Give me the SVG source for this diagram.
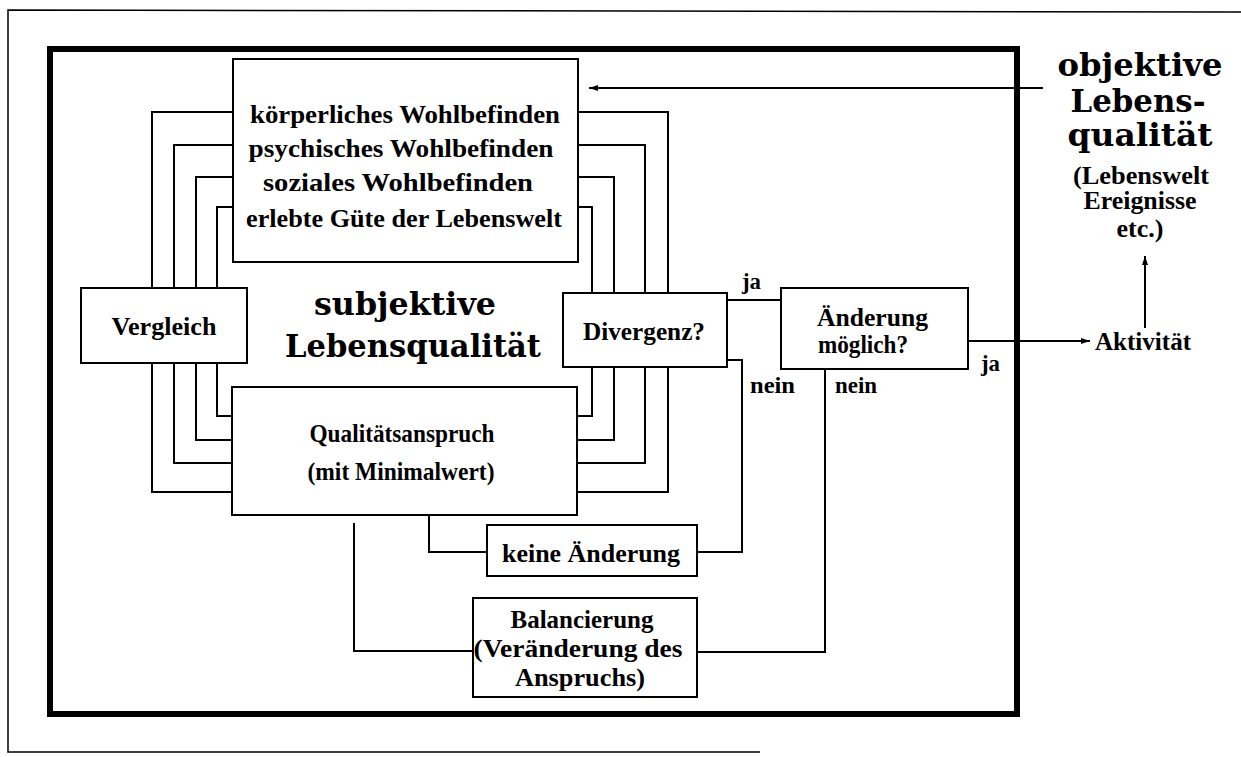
<svg xmlns="http://www.w3.org/2000/svg" width="1241" height="757" viewBox="0 0 1241 757">
<style>
.box{fill:#fff;stroke:#000;stroke-width:2}
.ln{fill:none;stroke:#000;stroke-width:2}
.t{font-family:"Liberation Serif","Times New Roman",serif;font-weight:bold;font-size:26px;fill:#000}
.s{font-size:25px}
.m{text-anchor:middle}
.big{font-family:"DejaVu Serif","Liberation Serif",serif;font-weight:bold;font-size:31px;fill:#000;text-anchor:middle}
.lab{font-family:"Liberation Serif","Times New Roman",serif;font-weight:bold;font-size:24px;fill:#000}
</style>
<defs>
<marker id="ah" markerWidth="10" markerHeight="8" refX="9" refY="4" orient="auto" markerUnits="userSpaceOnUse">
<path d="M0,1 L9,4 L0,7 Z" fill="#000"/>
</marker>
</defs>
<rect width="1241" height="757" fill="#fff"/>
<g id="frame">
<path d="M1241,12 L8,10 L8,752 L760,752" fill="none" stroke="#000" stroke-width="1.5"/>
<rect x="50" y="49" width="967" height="665" fill="none" stroke="#000" stroke-width="6"/>
</g>
<g id="connectors">
<rect class="ln" x="152" y="112" width="516" height="380"/>
<rect class="ln" x="174" y="145" width="471" height="318"/>
<rect class="ln" x="196" y="177" width="418" height="263"/>
<rect class="ln" x="217" y="207" width="375" height="209"/>
<path class="ln" d="M1043,88 L589,88" marker-end="url(#ah)"/>
<path class="ln" d="M727,300 L781,300"/>
<path class="ln" d="M727,360 L742,360 L742,552 L697,552"/>
<path class="ln" d="M429,515 L429,552 L487,552"/>
<path class="ln" d="M825,369 L825,652 L697,652"/>
<path class="ln" d="M354,523 L354,651 L473,651"/>
<path class="ln" d="M968,341 L1090,341" marker-end="url(#ah)"/>
<path class="ln" d="M1145,328 L1145,256" marker-end="url(#ah)"/>
</g>
<g id="n-wohl">
<rect class="box" x="233" y="59" width="345" height="203"/>
<text class="t s m" x="405" y="123" textLength="310" lengthAdjust="spacingAndGlyphs">körperliches Wohlbefinden</text>
<text class="t s m" x="401" y="157" textLength="305" lengthAdjust="spacingAndGlyphs">psychisches Wohlbefinden</text>
<text class="t s m" x="398" y="191" textLength="270" lengthAdjust="spacingAndGlyphs">soziales Wohlbefinden</text>
<text class="t s m" x="404" y="227" textLength="316" lengthAdjust="spacingAndGlyphs">erlebte Güte der Lebenswelt</text>
</g>
<g id="n-vergleich">
<rect class="box" x="81" y="288" width="166" height="75"/>
<text class="t m" x="164" y="335" textLength="105" lengthAdjust="spacingAndGlyphs">Vergleich</text>
</g>
<g id="n-subjektiv">
<text class="big" x="405" y="315" textLength="182" lengthAdjust="spacingAndGlyphs">subjektive</text>
<text class="big" x="413" y="357" textLength="256" lengthAdjust="spacingAndGlyphs">Lebensqualität</text>
</g>
<g id="n-divergenz">
<rect class="box" x="563" y="293" width="164" height="74"/>
<text class="t m" x="644" y="340" textLength="122" lengthAdjust="spacingAndGlyphs">Divergenz?</text>
</g>
<g id="n-aenderung">
<rect class="box" x="781" y="288" width="187" height="81"/>
<text class="t s" x="817" y="326" textLength="111" lengthAdjust="spacingAndGlyphs">Änderung</text>
<text class="t s" x="818" y="353" textLength="90" lengthAdjust="spacingAndGlyphs">möglich?</text>
</g>
<g id="n-anspruch">
<rect class="box" x="232" y="387" width="345" height="128"/>
<text class="t m" x="402" y="442" textLength="185" lengthAdjust="spacingAndGlyphs">Qualitätsanspruch</text>
<text class="t m" x="401" y="480" textLength="187" lengthAdjust="spacingAndGlyphs">(mit Minimalwert)</text>
</g>
<g id="n-keine">
<rect class="box" x="487" y="525" width="210" height="51"/>
<text class="t m" x="591" y="562" textLength="178" lengthAdjust="spacingAndGlyphs">keine Änderung</text>
</g>
<g id="n-balance">
<rect class="box" x="473" y="598" width="224" height="99"/>
<text class="t m" x="582" y="628" textLength="143" lengthAdjust="spacingAndGlyphs">Balancierung</text>
<text class="t m" x="578" y="657" textLength="209" lengthAdjust="spacingAndGlyphs">(Veränderung des</text>
<text class="t m" x="580" y="686" textLength="130" lengthAdjust="spacingAndGlyphs">Anspruchs)</text>
</g>
<g id="labels">
<text class="lab" x="742" y="289" textLength="19" lengthAdjust="spacingAndGlyphs">ja</text>
<text class="lab" x="981" y="371" textLength="19" lengthAdjust="spacingAndGlyphs">ja</text>
<text class="lab" x="750" y="393" textLength="45" lengthAdjust="spacingAndGlyphs">nein</text>
<text class="lab" x="835" y="393" textLength="42" lengthAdjust="spacingAndGlyphs">nein</text>
</g>
<g id="n-objektiv">
<text class="big" x="1140" y="76" textLength="165" lengthAdjust="spacingAndGlyphs">objektive</text>
<text class="big" x="1138" y="112" textLength="135" lengthAdjust="spacingAndGlyphs">Lebens-</text>
<text class="big" x="1140" y="146" textLength="145" lengthAdjust="spacingAndGlyphs">qualität</text>
<text class="t s m" x="1141" y="184" textLength="136" lengthAdjust="spacingAndGlyphs">(Lebenswelt</text>
<text class="t s m" x="1140" y="209" textLength="113" lengthAdjust="spacingAndGlyphs">Ereignisse</text>
<text class="t s m" x="1140" y="237" textLength="47" lengthAdjust="spacingAndGlyphs">etc.)</text>
</g>
<g id="n-aktivitaet">
<text class="t s" x="1095" y="350" textLength="96" lengthAdjust="spacingAndGlyphs">Aktivität</text>
</g>
</svg>
